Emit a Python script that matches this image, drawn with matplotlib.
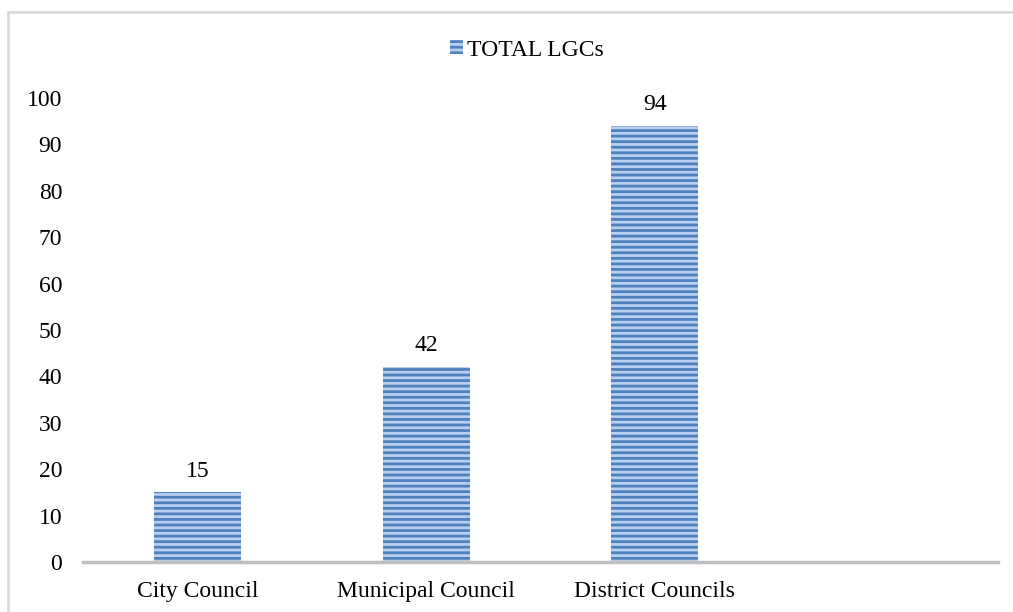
import matplotlib.pyplot as plt
from matplotlib.patches import Rectangle

plt.rcParams['font.family'] = ['Liberation Serif', 'DejaVu Serif']
plt.rcParams['hatch.linewidth'] = 2.0

categories = ["City Council", "Municipal Council", "District Councils", ""]
totals = [15, 42, 94, None]
series_name = "TOTAL LGCs"

fig = plt.figure(figsize=(10.13, 6.12), dpi=100)
ax = fig.add_axes([0.082, 0.0817, 0.903, 0.7583])

# outer chart frame (light grey, only top/left visible)
fig.patches.append(Rectangle((8 / 1013, -0.1), 1.2, 1 - 12 / 612 + 0.1,
                             transform=fig.transFigure, fill=False,
                             edgecolor="#D9D9D9", linewidth=2))

xs = list(range(len(categories)))
vals = [v if v is not None else 0 for v in totals]
bars = ax.bar(xs, vals, width=0.38, color="#B8CFEF", edgecolor="#4F81BD",
              hatch="---", linewidth=0, label=series_name)
for b, v in zip(bars, totals):
    if v is not None:
        ax.text(b.get_x() + b.get_width() / 2, v + 2.3, str(v),
                ha="center", va="bottom", fontsize=17)

ax.set_xlim(-0.5, len(categories) - 0.5)
ax.set_ylim(0, 100)
ax.set_yticks(range(0, 101, 10))
ax.set_xticks(xs)
ax.set_xticklabels(categories)
ax.tick_params(axis="both", length=0, labelsize=17)
ax.tick_params(axis="y", pad=15)
ax.tick_params(axis="x", pad=14)
for s in ["top", "right", "left"]:
    ax.spines[s].set_visible(False)
ax.spines["bottom"].set_color("#BFBFBF")
ax.spines["bottom"].set_linewidth(2.5)

fig.legend(handles=[bars[0]], labels=[series_name], loc="center",
           bbox_to_anchor=(527 / 1013, 1 - 50 / 612), frameon=False,
           fontsize=17, handlelength=0.55, handleheight=0.55,
           handletextpad=0.2)

fig.savefig("out.png", dpi=100)
